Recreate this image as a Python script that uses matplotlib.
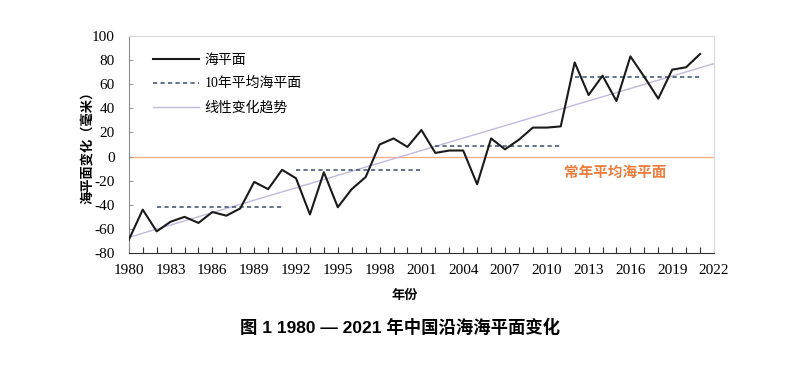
import numpy as np
import matplotlib.pyplot as plt
import matplotlib.ticker as ticker

# sea level anomaly (mm)
years = list(range(1980, 2022))
sea_level = [-69, -44, -62, -54, -50, -55, -46, -49, -43, -21,
             -27, -11, -18, -48, -13, -42, -27, -17, 10, 15,
             8, 22, 3, 5, 5, -23, 15, 6, 14, 24,
             24, 25, 78, 51, 67, 46, 83, 66, 48, 72,
             74, 85]

# 10-year means
decade_start = [1982, 1992, 2002, 2012]
decade_end = [1991, 2001, 2011, 2021]
decade_mean = [-42, -11, 9, 66]

# linear trend end points (1980, 2022)
trend_x = [1980, 2022]
trend_y = [-67, 77]

plt.rcParams['font.family'] = ['Liberation Serif', 'Noto Sans CJK SC', 'DejaVu Sans']
plt.rcParams['axes.unicode_minus'] = False
cjk = ['Noto Sans CJK SC', 'DejaVu Sans']

fig = plt.figure(figsize=(8, 3.7), dpi=100)
ax = fig.add_axes([0.161, 0.316, 0.7315, 0.587])

ax.axhline(0, color='#f2b08a', lw=1.0, zorder=1)
ax.plot(trend_x, trend_y, color='#c3b8dc', lw=1.0, label='线性变化趋势', zorder=2)
for i in range(len(decade_mean)):
    ax.plot([decade_start[i], decade_end[i]], [decade_mean[i], decade_mean[i]],
            color='#4a5a78', lw=1.2, ls=(0, (2.5, 2)), zorder=3,
            label='10年平均海平面' if i == 0 else None)
ax.plot(years, sea_level, color='#1a1a1a', lw=1.5, label='海平面', zorder=4)

ax.text(2014.9, -13, '常年平均海平面', color='#ec7c3c', fontsize=10.5, fontweight='bold',
        family=cjk, ha='center', va='center')

ax.set_xlim(1980, 2022)
ax.set_ylim(-80, 100)
ax.set_xticks(np.arange(1980, 2023, 3))
ax.xaxis.set_minor_locator(ticker.MultipleLocator(1))
ax.set_yticks(np.arange(-80, 101, 20))
ax.tick_params(axis='x', which='both', direction='in', length=4, width=0.8, color='#333333', labelsize=11, pad=8)
ax.tick_params(axis='y', direction='in', length=3, width=0.8, color='#999999', labelsize=11, pad=10)

for side in ['top', 'right']:
    ax.spines[side].set_color('#d9d9d9')
    ax.spines[side].set_linewidth(0.8)
ax.spines['left'].set_color('#8c8c8c')
ax.spines['bottom'].set_color('#333333')

ax.set_xlabel('年份', family=cjk, fontsize=9.5, fontweight='bold')
ax.set_ylabel('海平面变化（毫米）', family=cjk, fontsize=9.5, fontweight='bold')
ax.xaxis.set_label_coords(0.472, -0.162)
ax.yaxis.set_label_coords(-0.058, 0.5)

h, l = ax.get_legend_handles_labels()
order = [2, 1, 0]
ax.legend([h[i] for i in order], [l[i] for i in order], loc='upper left', frameon=False,
          handlelength=3.3, handletextpad=0.4, labelspacing=0.75,
          bbox_to_anchor=(0.02, 0.975),
          prop={'family': ['Liberation Serif', 'Noto Sans CJK SC'], 'weight': 'medium', 'size': 10})

fig.text(0.5, 0.115, '图 1 1980 — 2021 年中国沿海海平面变化', ha='center', va='center',
         fontsize=12.5, fontweight='bold', family=['Liberation Sans', 'Noto Sans CJK SC'])

plt.savefig('out.png', dpi=100)
plt.close()
